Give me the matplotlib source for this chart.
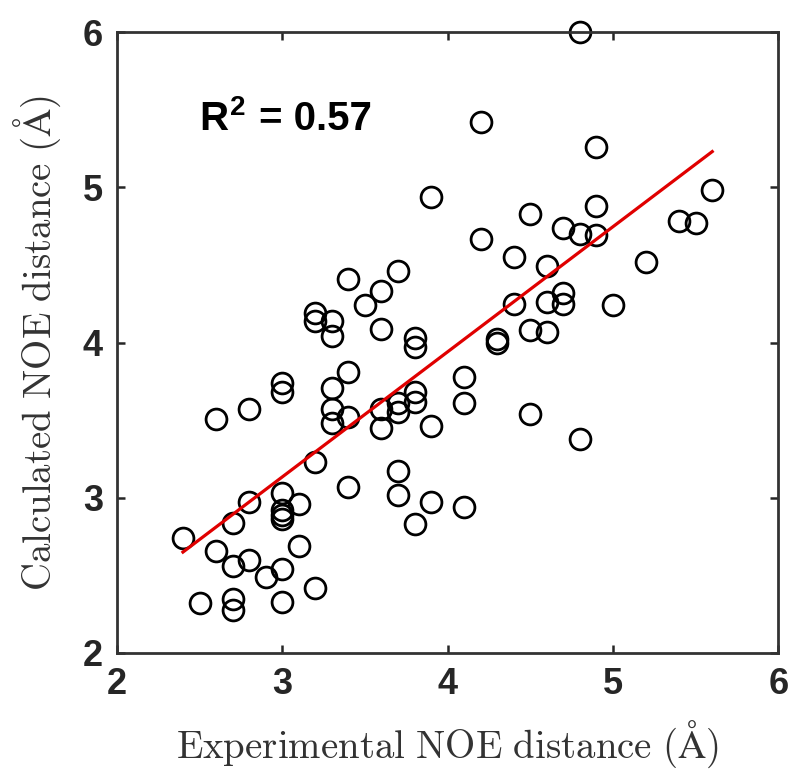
import matplotlib
matplotlib.use("Agg")
import matplotlib.pyplot as plt
import numpy as np

plt.rcParams['mathtext.fontset'] = 'cm'

# experimental vs calculated NOE distances
exp_dist = [2.4, 2.6, 2.8, 3.0, 3.0, 3.3, 3.4, 3.3, 3.3, 3.4,
            3.6, 3.6, 3.7, 3.7, 3.8, 3.8, 3.9, 3.2, 3.4, 3.7,
            3.7, 3.9, 3.8, 2.8, 2.7, 3.0, 3.0, 3.0, 3.0, 3.1,
            2.6, 2.7, 2.8, 2.9, 3.0, 3.1, 3.2, 2.5, 2.7, 2.7,
            3.0, 3.9, 3.4, 3.7, 3.6, 3.5, 3.2, 3.2, 3.3, 3.3,
            3.6, 3.8, 3.8, 4.8, 4.2, 4.9, 5.6, 4.9, 4.5, 5.4,
            5.5, 4.7, 4.8, 4.9, 4.2, 5.2, 4.4, 4.6, 4.4, 4.6,
            4.7, 4.7, 5.0, 4.5, 4.6, 4.3, 4.3, 4.1, 4.1, 4.5,
            4.8, 4.1]
calc_dist = [2.74, 3.51, 3.57, 3.74, 3.68, 3.71, 3.81, 3.57, 3.48, 3.52,
             3.57, 3.45, 3.61, 3.55, 3.68, 3.62, 3.46, 3.23, 3.07, 3.17,
             3.02, 2.97, 2.83, 2.97, 2.84, 3.03, 2.92, 2.89, 2.86, 2.96,
             2.66, 2.56, 2.60, 2.49, 2.54, 2.69, 2.42, 2.32, 2.35, 2.28,
             2.33, 4.94, 4.41, 4.46, 4.33, 4.24, 4.19, 4.14, 4.14, 4.04,
             4.09, 4.03, 3.97, 6.00, 5.42, 5.26, 4.98, 4.88, 4.83, 4.78,
             4.77, 4.74, 4.70, 4.69, 4.67, 4.52, 4.55, 4.49, 4.25, 4.26,
             4.32, 4.25, 4.24, 4.08, 4.07, 4.02, 4.00, 3.78, 3.61, 3.54,
             3.38, 2.94]

# fitted line end points
fit_x = [2.4, 5.6]
fit_y = [2.65, 5.23]

fig = plt.figure(figsize=(8, 7.82), dpi=100)
ax = fig.add_axes([0.146, 0.165, 0.827, 0.794])

ax.plot(exp_dist, calc_dist, 'o', mfc='none', mec='black', ms=15, mew=2, clip_on=False)
ax.plot(fit_x, fit_y, color='#e00000', lw=2.3)

ax.set_xlim(2, 6)
ax.set_ylim(2, 6)
ax.set_xticks([2, 3, 4, 5, 6])
ax.set_yticks([2, 3, 4, 5, 6])
ax.tick_params(direction='in', length=6, width=1.8, top=True, right=True,
               labelsize=26, pad=10, colors='#262626')
for lab in ax.get_xticklabels() + ax.get_yticklabels():
    lab.set_fontweight('bold')
    lab.set_family('Liberation Sans')
for s in ax.spines.values():
    s.set_linewidth(2)
    s.set_color('#333333')

# R^2 annotation, built from pieces so the superscript stays bold
r = ax.text(2.5, 5.37, 'R', fontsize=29, fontweight='bold', family='Liberation Sans')
ax.annotate('2', xy=(1, 0), xycoords=r, xytext=(1, 12), textcoords='offset points',
            fontsize=20, fontweight='bold', family='Liberation Sans', va='bottom')
ax.annotate(' = 0.57', xy=(1, 0), xycoords=r, xytext=(14, 0), textcoords='offset points',
            fontsize=29, fontweight='bold', family='Liberation Sans', va='bottom')

ax.set_xlabel(r'$\mathrm{Experimental\ NOE\ distance\ (\AA)}$', fontsize=28,
              color='#333333', labelpad=12)
ax.set_ylabel(r'$\mathrm{Calculated\ NOE\ distance\ (\AA)}$', fontsize=28,
              color='#333333', labelpad=14)

fig.savefig('out.png')
